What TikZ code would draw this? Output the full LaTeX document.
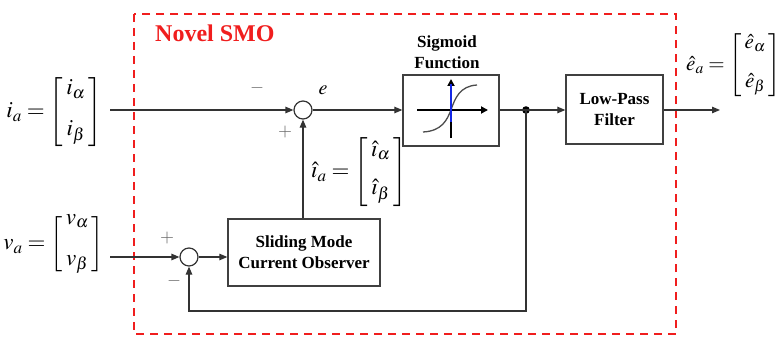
\documentclass[tikz,border=0pt]{standalone}
\usepackage{mathptmx}
\usepackage{fontspec}
\setmainfont{Liberation Serif}
\usetikzlibrary{arrows.meta}
\definecolor{boxred}{RGB}{240,30,30}
\definecolor{sigblue}{RGB}{20,40,230}
\newcommand{\dlsi}{\mathchar"17B}
\newcommand{\hi}{{\hat{\dlsi}}}
\newcommand{\he}{{\hat{e}}}
\newcommand{\cvec}[3]{\left[\vcenter{\halign{\hfil\kern3pt$##$\kern3pt\hfil\cr #1\cr\noalign{\vskip #3}#2\cr}}\right]}
\begin{document}
\begin{tikzpicture}[x=1pt,y=-1pt,
  line/.style={draw=black!80, line width=1.2pt},
  arr/.style={line, -{Triangle[length=8pt,width=6.5pt]}},
  blk/.style={draw=black!75, line width=1.3pt, inner sep=0pt, align=center,
    font=\fontsize{17}{21}\selectfont\bfseries},
  sumc/.style={circle, draw=black!80, line width=1.2pt, minimum size=18pt, inner sep=0pt},
  lab/.style={font=\fontsize{23}{27}\selectfont, inner sep=0pt},
  labs/.style={font=\fontsize{21}{25}\selectfont, inner sep=0pt},
  sgn/.style={font=\fontsize{18}{20}\selectfont, text=black!60, inner sep=0pt},
  axis/.style={draw=black, line width=2pt, -{Triangle[length=7pt,width=7pt]}},
]
\useasboundingbox (0,0) rectangle (782,337);
% red dashed frame
\draw[boxred, line width=2pt, dash pattern=on 8pt off 6pt] (134,14) rectangle (676,334);
\node[anchor=west, text=boxred, font=\fontsize{24}{28}\selectfont\bfseries, inner sep=0pt] (title) at (155,33) {Novel SMO};

% blocks
\node[blk, minimum width=96pt, minimum height=71pt] (sig) at (451,110.5) {};
\node[blk, minimum width=97pt, minimum height=69pt] (lpf) at (614.5,109.5) {Low-Pass\\Filter};
\node[blk, minimum width=152pt, minimum height=67pt] (smo) at (304,252.5) {Sliding Mode\\Current Observer};
\node[font=\fontsize{17}{21}\selectfont\bfseries, align=center, inner sep=0pt] (sigt) at (447,52) {Sigmoid\\Function};

% sigmoid icon
\draw[axis] (417,110) -- (488,110);
\draw[axis] (451,138) -- (451,79);
\draw[black!70, line width=1.3pt] (423,132) .. controls (442,131) and (447,120) .. (451,110) .. controls (455,98) and (460,86) .. (477,85);
\draw[sigblue, line width=2pt] (451,84) -- (451,122);

% summing junctions
\node[sumc] (s1) at (303,110) {};
\node[sumc] (s2) at (189,257) {};
\fill[black] (526,110) circle (3.8pt);
\coordinate (jn) at (526,110);
\coordinate (fb1) at (526,311);
\coordinate (fb2) at (189,311);

% inputs
\node[lab, anchor=east] (ia) at (102,112) {$i_a=\cvec{i_\alpha}{i_\beta}{14pt}$};
\node[lab, anchor=east] (va) at (104,244) {$v_a=\cvec{v_{\alpha}}{v_{\beta}}{14pt}$};
\node[lab, anchor=west] (iah) at (311,172) {$\hi_a=\cvec{\hi_\alpha}{\hi_\beta}{11pt}$};
\node[labs, anchor=west] (eah) at (686,65) {$\he_a=\cvec{\he_\alpha}{\he_\beta}{14pt}$};
\coordinate (iin) at (110,110);
\coordinate (vin) at (110,257);
\coordinate (eout) at (720,110);

% connectors
\draw[arr] (iin) -- (s1.west);
\draw[arr] (s1.east) -- (s1.east -| sig.west);
\draw[line] (sig.east |- jn) -- (jn);
\draw[arr] (jn) -- (jn -| lpf.west);
\draw[arr] (lpf.east |- eout) -- (eout);
\draw[arr] (vin) -- (s2.west);
\draw[arr] (s2.east) -- (s2.east -| smo.west);
\draw[arr] (smo.north -| s1) -- (s1.south);
\draw[arr] (jn) -- (fb1) -- (fb2) -- (s2.south);

% signs
\node[sgn] (m1) at (257,88) {$-$};
\node[sgn] (p1) at (285,132) {$+$};
\node[font=\fontsize{20}{24}\selectfont, inner sep=0pt] (e) at (323,90) {$e$};
\node[sgn] (p2) at (167,238) {$+$};
\node[sgn] (m2) at (174,281) {$-$};
\end{tikzpicture}
\end{document}
